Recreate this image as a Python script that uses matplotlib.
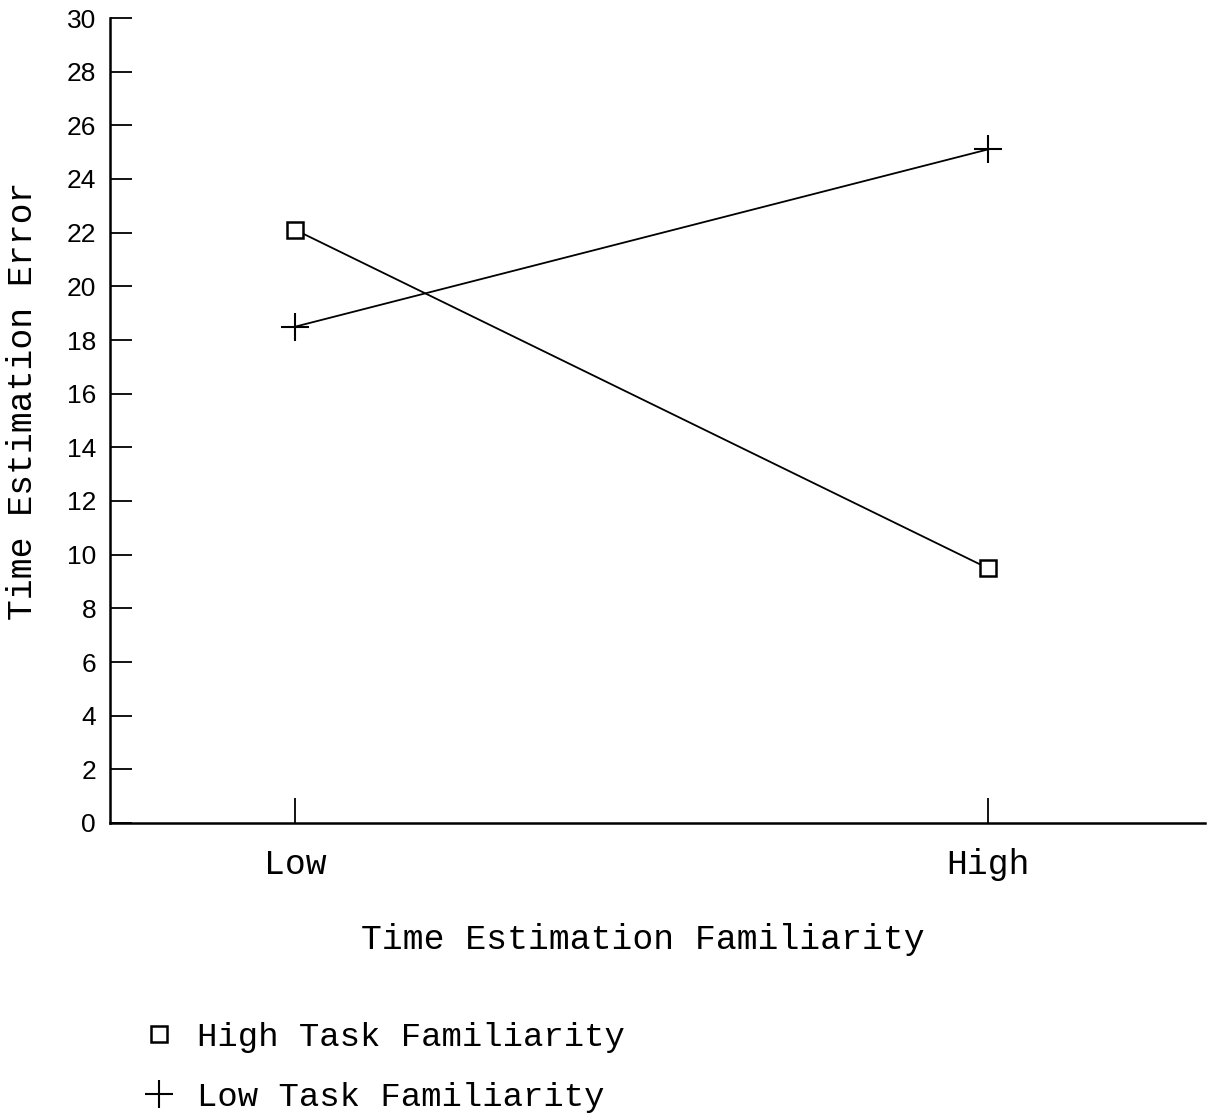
import matplotlib
matplotlib.use('Agg')
from matplotlib import pyplot as plt
from matplotlib.lines import Line2D

# data
groups = ['Low', 'High']
high_task = [22.1, 9.5]
low_task = [18.5, 25.1]
y_ticks = list(range(0, 31, 2))

mono = 'Liberation Mono'
sans = 'Liberation Sans'

fig = plt.figure(figsize=(12.12, 11.2), dpi=100)
ax = fig.add_axes([110 / 1212, 1 - 823 / 1120, 1095 / 1212, 805 / 1120])

x = list(range(len(groups)))
ax.plot(x, high_task, color='black', lw=1.3, marker='s', ms=12,
        mfc='white', mec='black', mew=1.8, label='High Task Familiarity')
ax.plot(x, low_task, color='black', lw=1.3, marker='+', ms=20,
        mew=1.5, label='Low Task Familiarity')

ax.set_xlim(-0.268, 1.314)
ax.set_ylim(0, 30)

for s in ['top', 'right']:
    ax.spines[s].set_visible(False)
for s in ['left', 'bottom']:
    ax.spines[s].set_linewidth(1.8)

ax.set_yticks(y_ticks)
ax.set_yticklabels([str(v) for v in y_ticks], fontfamily=sans, fontsize=19)
ax.tick_params(axis='y', direction='in', length=16, width=1.3, pad=10)

ax.set_xticks(x)
ax.set_xticklabels(groups, fontfamily=mono, fontsize=25)
ax.tick_params(axis='x', direction='in', length=18, width=1.3, pad=18)

ax.set_xlabel('Time Estimation Familiarity', fontfamily=mono, fontsize=25, va='center')
ax.xaxis.set_label_coords(0.487, -0.145)
ax.set_ylabel('Time Estimation Error', fontfamily=mono, fontsize=25, va='center')
ax.yaxis.set_label_coords(-0.080, 0.525)

handles = [
    Line2D([], [], ls='none', marker='s', ms=12, mfc='white', mec='black', mew=1.8),
    Line2D([], [], ls='none', marker='+', ms=20, color='black', mew=1.5),
]
fig.legend(handles, ['High Task Familiarity', 'Low Task Familiarity'],
           loc='upper left', bbox_to_anchor=(149 / 1212, 1 - 1022 / 1120),
           frameon=False, prop={'family': mono, 'size': 24.5},
           handlelength=0.6, handletextpad=0.8, labelspacing=0.85,
           borderpad=0, borderaxespad=0)

fig.savefig('out.png', dpi=100)
